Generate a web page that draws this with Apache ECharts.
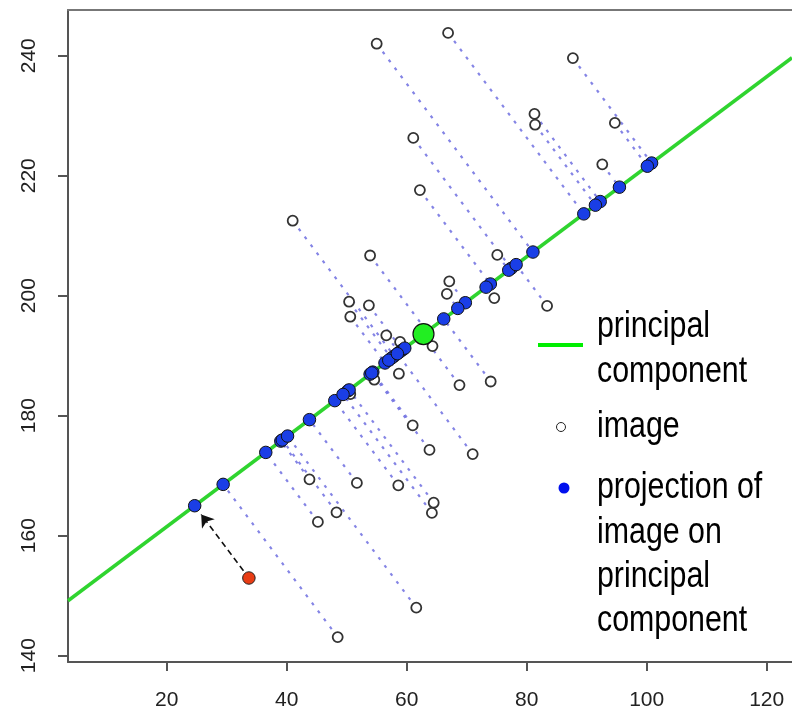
<!DOCTYPE html>
<html>
<head>
<meta charset="utf-8">
<script src="https://cdn.jsdelivr.net/npm/echarts@6/dist/echarts.min.js"></script>
<style>
html, body { margin: 0; padding: 0; background: #fff; }
#chart { width: 792px; height: 711px; }
</style>
</head>
<body>
<div id="chart"></div>
<script>
// open circles: the images
const imageX = [41.0, 55.0, 66.9, 61.1, 62.2, 87.7, 81.3, 81.4, 94.7, 92.6,
  53.9, 75.1, 67.1, 66.7, 74.6, 83.4, 50.4, 53.7, 50.6, 56.6,
  58.9, 64.3, 58.7, 54.6, 50.6, 68.8, 74.0, 61.0, 63.8, 71.0,
  43.8, 51.7, 58.6, 64.5, 64.2, 48.3, 45.2, 61.6, 48.5];
const imageY = [212.5, 242.0, 243.8, 226.3, 217.6, 239.6, 230.3, 228.5, 228.8, 221.9,
  206.7, 206.8, 202.4, 200.3, 199.6, 198.3, 199.0, 198.4, 196.5, 193.4,
  192.3, 191.6, 187.0, 186.0, 183.6, 185.1, 185.7, 178.4, 174.3, 173.6,
  169.4, 168.8, 168.4, 165.5, 163.8, 163.9, 162.3, 148.0, 143.1];
// the red (new) image and the mean image (green dot)
const newImage = [33.7, 152.95];
const meanImage = [62.8, 193.6];
// slope of the principal component line
const pcSlope = 0.75;

const xTicks = [20, 40, 60, 80, 100, 120];
const yTicks = [140, 160, 180, 200, 220, 240];

const xMin = 3.55, xMax = 124.22, yMin = 138.95, yMax = 247.62;

const norm = Math.hypot(1, pcSlope);
const ux = 1 / norm, uy = pcSlope / norm;
function project(p) {
  const t = (p[0] - meanImage[0]) * ux + (p[1] - meanImage[1]) * uy;
  return [meanImage[0] + t * ux, meanImage[1] + t * uy];
}

const images = imageX.map((x, i) => [x, imageY[i]]);
const projections = images.map(project);
const newProj = project(newImage);
projections.push(newProj);

const segments = images.map((p, i) => ({ coords: [p, projections[i]] }));
const pcLine = [xMin, xMax].map(x => [x, meanImage[1] + pcSlope * (x - meanImage[0])]);

const arrowFrom = [newImage[0] + 0.1 * (newProj[0] - newImage[0]), newImage[1] + 0.1 * (newProj[1] - newImage[1])];
const arrowTo = [newProj[0] + 0.12 * (newImage[0] - newProj[0]), newProj[1] + 0.12 * (newImage[1] - newProj[1])];

const axisColor = '#555';
const labelFont = { fontFamily: 'Liberation Sans', fontSize: 21, color: '#222' };
const legendFont = '37px "Liberation Sans"';

const chart = echarts.init(document.getElementById('chart'));
chart.setOption({
  animation: false,
  grid: { left: 68, top: 10, right: 0, bottom: 49 },
  xAxis: [{
    type: 'value', min: xMin, max: xMax,
    axisLine: { show: true, onZero: false, lineStyle: { color: axisColor, width: 2 } },
    axisTick: { show: true, length: 9, customValues: xTicks, lineStyle: { color: axisColor, width: 2 } },
    axisLabel: { customValues: xTicks, margin: 28, ...labelFont },
    splitLine: { show: false }
  }, {
    type: 'value', position: 'top', min: xMin, max: xMax,
    axisLine: { show: true, onZero: false, lineStyle: { color: '#777', width: 2 } },
    axisTick: { show: false }, axisLabel: { show: false }, splitLine: { show: false }
  }],
  yAxis: {
    type: 'value', min: yMin, max: yMax,
    axisLine: { show: true, onZero: false, lineStyle: { color: axisColor, width: 2 } },
    axisTick: { show: true, length: 10, customValues: yTicks, lineStyle: { color: axisColor, width: 2 } },
    axisLabel: { customValues: yTicks, rotate: 90, margin: 28, ...labelFont },
    splitLine: { show: false }
  },
  series: [
    {
      type: 'lines', coordinateSystem: 'cartesian2d', z: 2,
      data: segments, symbol: 'none',
      lineStyle: { color: 'rgba(110,110,225,0.85)', width: 2.2, type: [3, 7], opacity: 1 }
    },
    {
      type: 'line', data: pcLine, symbol: 'none', z: 3,
      lineStyle: { color: '#2fd42f', width: 3.5 }
    },
    {
      type: 'scatter', data: images, symbolSize: 10, z: 4,
      itemStyle: { color: '#fff', borderColor: '#333', borderWidth: 1.8, opacity: 1 }
    },
    {
      type: 'lines', coordinateSystem: 'cartesian2d', z: 5,
      data: [{ coords: [arrowFrom, arrowTo] }],
      symbol: ['none', 'arrow'], symbolSize: 12,
      lineStyle: { color: '#111', width: 1.6, type: [6, 4], opacity: 1 }
    },
    {
      type: 'scatter', data: projections, symbolSize: 12.5, z: 6,
      itemStyle: { color: '#1a3ee6', borderColor: '#111', borderWidth: 1, opacity: 1 }
    },
    {
      type: 'scatter', data: [newImage], symbolSize: 12.5, z: 6,
      itemStyle: { color: '#e83c14', borderColor: '#222', borderWidth: 1, opacity: 1 }
    },
    {
      type: 'scatter', data: [meanImage], symbolSize: 21, z: 7,
      itemStyle: { color: '#22ee22', borderColor: '#111', borderWidth: 1.2, opacity: 1 }
    }
  ],
  graphic: [
    { type: 'line', shape: { x1: 538, y1: 345, x2: 583, y2: 345 }, style: { stroke: '#00ee00', lineWidth: 4 } },
    { type: 'text', x: 597, y: 304, scaleX: 0.82,
      style: { text: 'principal\ncomponent', font: legendFont, fill: '#000', lineHeight: 45.5, verticalAlign: 'top' } },
    { type: 'circle', shape: { cx: 561, cy: 427, r: 4.5 }, style: { fill: '#fff', stroke: '#222', lineWidth: 1 } },
    { type: 'text', x: 597, y: 404, scaleX: 0.82,
      style: { text: 'image', font: legendFont, fill: '#000', lineHeight: 45, verticalAlign: 'top' } },
    { type: 'circle', shape: { cx: 564, cy: 488, r: 5.5 }, style: { fill: '#0010ee' } },
    { type: 'text', x: 597, y: 466, scaleX: 0.82,
      style: { text: 'projection of\nimage on\nprincipal\ncomponent', font: legendFont, fill: '#000', lineHeight: 44.3, verticalAlign: 'top' } }
  ]
});
</script>
</body>
</html>
